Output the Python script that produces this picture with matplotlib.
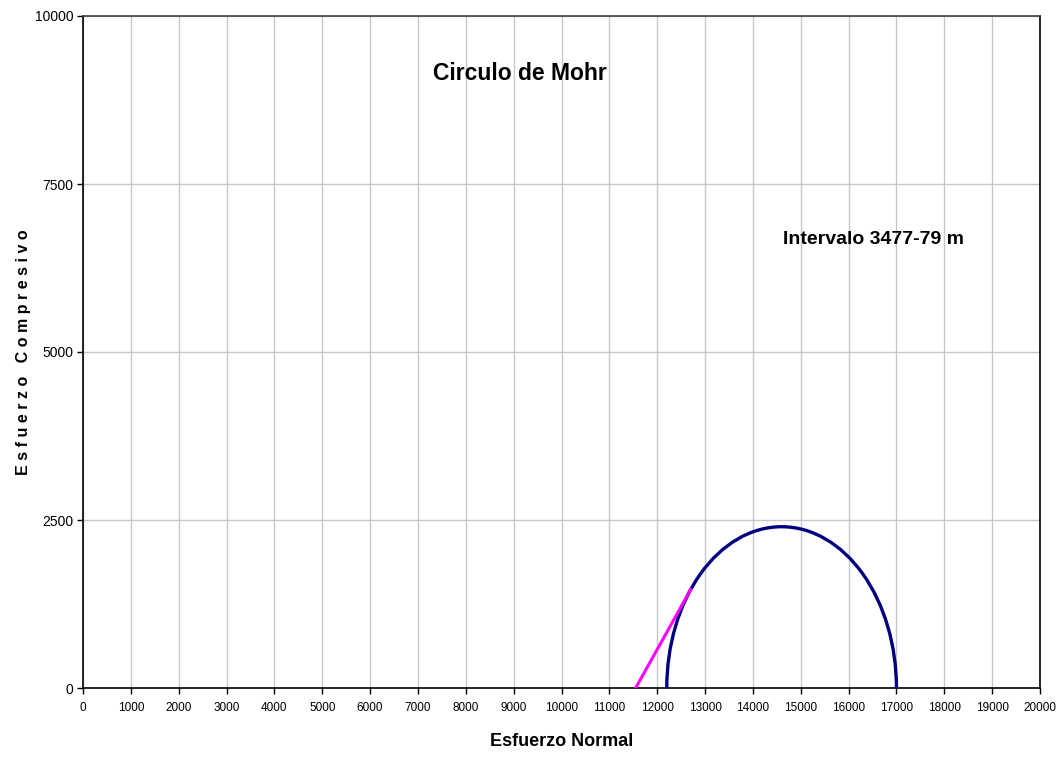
import matplotlib
matplotlib.use("Agg")
import matplotlib.pyplot as plt
from matplotlib.patches import Arc

# Mohr circle data
sigma_3 = 12200
sigma_1 = 17000
envelope_x = [11550, 12700]
envelope_y = [0, 1466]

x_ticks = list(range(0, 20001, 1000))
y_ticks = [0, 2500, 5000, 7500, 10000]

narrow = ["Liberation Sans Narrow", "Liberation Sans", "DejaVu Sans"]
wide = ["Liberation Sans", "DejaVu Sans"]

fig = plt.figure(figsize=(10.61, 7.6), dpi=100)
ax = fig.add_axes([83 / 1061, 72 / 760, 957 / 1061, 672 / 760])

center = (sigma_1 + sigma_3) / 2
diam = sigma_1 - sigma_3
ax.add_patch(Arc((center, 0), diam, diam, theta1=0, theta2=180,
                 color="#000080", lw=2.4, zorder=3))
ax.plot(envelope_x, envelope_y, color="#FF00FF", lw=2.2, zorder=4)

ax.set_xlim(0, 20000)
ax.set_ylim(0, 10000)
ax.set_xticks(x_ticks)
ax.set_yticks(y_ticks)
ax.set_xticklabels([str(v) for v in x_ticks], family=narrow, fontsize=8.5)
ax.set_yticklabels([str(v) for v in y_ticks], family=narrow, fontsize=10)
ax.tick_params(direction="out", length=4, width=1, color="black")
ax.tick_params(axis="x", pad=6)
ax.tick_params(axis="y", pad=3)
ax.grid(True, color="#c8c8c8", lw=1)
ax.set_axisbelow(True)
for s in ax.spines.values():
    s.set_color("black")
    s.set_linewidth(1.2)
ax.spines["top"].set_color("#404040")

ax.set_xlabel("Esfuerzo Normal", family=wide, fontweight="bold", fontsize=13, labelpad=14)
ax.set_ylabel("E s f u e r z o   C o m p r e s i v o", family=wide, fontweight="bold",
              fontsize=11.5)
ax.yaxis.set_label_coords(-52 / 957, 0.5)

ax.text(9133, 9150, "Circulo de Mohr", family=narrow, fontweight="bold",
        fontsize=16.5, ha="center", va="center")
ax.text(16510, 6667, "Intervalo 3477-79 m", family=narrow, fontweight="bold",
        fontsize=14, ha="center", va="center")

fig.savefig("out.png", dpi=100)
